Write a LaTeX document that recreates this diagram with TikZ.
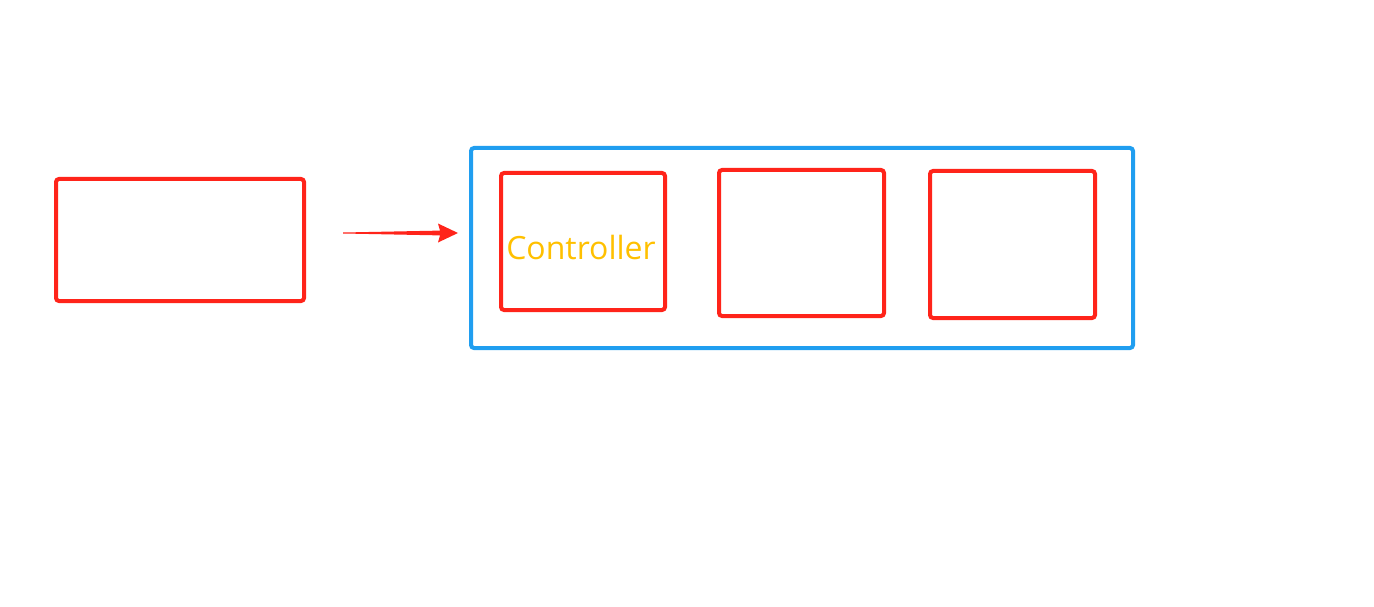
\documentclass[tikz,border=0pt]{standalone}
\usepackage{fontspec}
\setmainfont{Open Sans}
\usetikzlibrary{arrows.meta}
\definecolor{boxred}{RGB}{255,36,26}
\definecolor{boxblue}{RGB}{32,158,240}
\definecolor{txtyellow}{RGB}{255,192,0}
\begin{document}
\begin{tikzpicture}[x=1pt,y=-1pt,
  redbox/.style={draw=boxred,line width=4pt,rounded corners=3pt},
  bluebox/.style={draw=boxblue,line width=4pt,rounded corners=3pt}]
\useasboundingbox (0,0) rectangle (1374,607);
\draw[redbox] (56,179) rectangle (304,301);
\draw[bluebox] (471,148) rectangle (1133,348);
\draw[redbox] (501,173) rectangle (665,310);
\draw[redbox] (719,170) rectangle (884,316);
\draw[redbox] (930,171) rectangle (1095,318);
\node[text=txtyellow,font=\fontsize{32}{36}\selectfont,inner sep=0pt] (ctl) at (581,247) {Controller};
\coordinate (atail) at (343,233);
\coordinate (atip) at (458,233);
\fill[boxred] (343,232.5) -- (440,230.6) -- (438,223.5) -- (atip) -- (438,242.5) -- (440,235.4) -- (343,233.5) -- cycle;
\end{tikzpicture}
\end{document}
